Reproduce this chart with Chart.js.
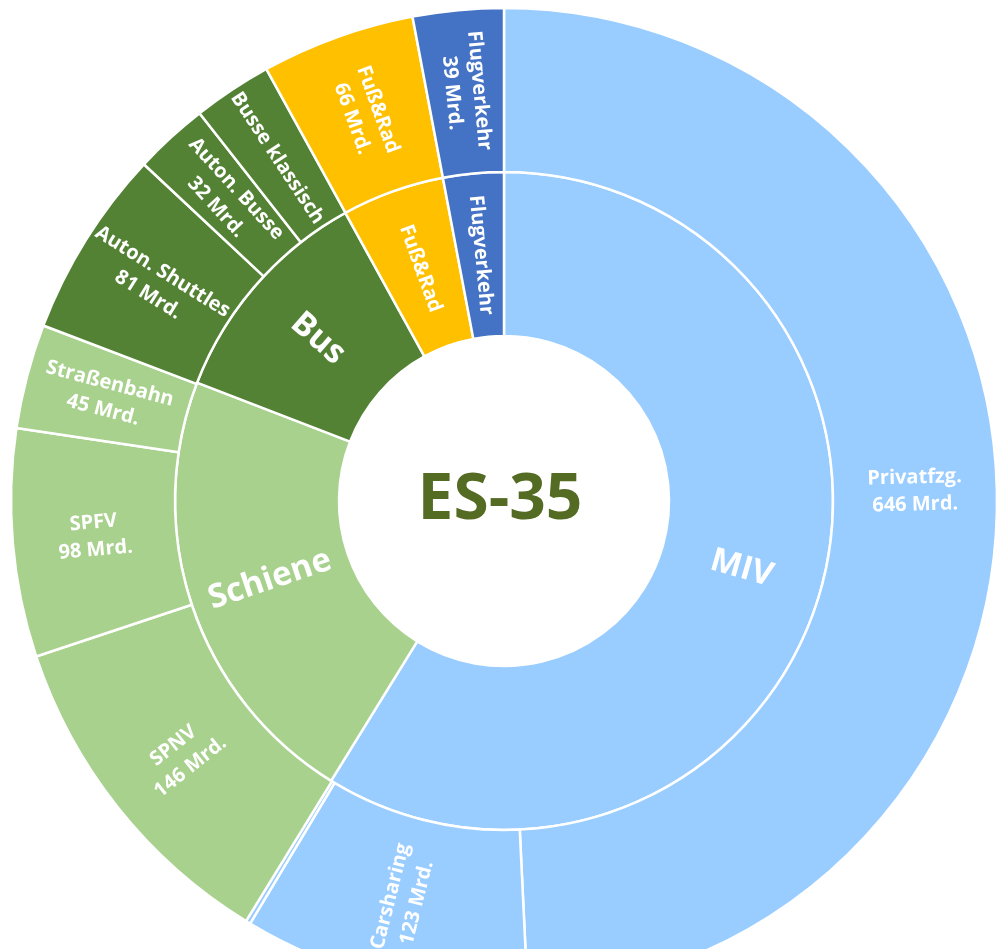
<!DOCTYPE html>
<html>
<head>
<meta charset="utf-8">
<script src="https://cdn.jsdelivr.net/npm/chart.js@4/dist/chart.umd.min.js"></script>
<style>
  html, body { margin: 0; padding: 0; background: #ffffff; overflow: hidden; width: 997px; height: 949px; }
  #wrap { position: absolute; left: 0; top: 0; width: 1008px; height: 1002px; }
  canvas { display: block; }
</style>
</head>
<body>
<div id="wrap"><canvas id="c" width="1008" height="1002"></canvas></div>
<script>
// ---- data (values in Mrd.) ----
const centerTitle = 'ES-35';
const valueUnit = ' Mrd.';

// outer ring, clockwise from 12 o'clock
const outerLabels = ['Privatfzg.', 'Carsharing', '', 'SPNV', 'SPFV', 'Straßenbahn', 'Auton. Shuttles', 'Auton. Busse', 'Busse klassisch', 'Fuß&Rad', 'Flugverkehr'];
const outerValues = [646, 123, 2, 146, 98, 45, 81, 32, 34, 66, 39];
const outerValueShown = [true, true, false, true, true, true, true, true, false, true, true];

// inner ring, clockwise from 12 o'clock
const innerLabels = ['MIV', 'Schiene', 'Bus', 'Fuß&Rad', 'Flugverkehr'];
const innerValues = [771, 289, 146, 66, 39];

// ---- styles ----
const C_MIV = '#99CCFF', C_RAIL = '#A9D18E', C_BUS = '#548235', C_WALK = '#FFC000', C_AIR = '#4472C4';
const outerColors = [C_MIV, C_MIV, C_MIV, C_RAIL, C_RAIL, C_RAIL, C_BUS, C_BUS, C_BUS, C_WALK, C_AIR];
const innerColors = [C_MIV, C_RAIL, C_BUS, C_WALK, C_AIR];
const innerBigFont = [true, true, true, false, false];

const FONT = '"Open Sans", "Liberation Sans", sans-serif';

const labelPlugin = {
  id: 'sunburstLabels',
  afterDatasetsDraw(chart) {
    const ctx = chart.ctx;
    chart.data.datasets.forEach((ds, di) => {
      const meta = chart.getDatasetMeta(di);
      meta.data.forEach((arc, i) => {
        let lines, size;
        if (di === 0) {
          if (!outerLabels[i]) return;
          lines = outerValueShown[i] ? [outerLabels[i], outerValues[i] + valueUnit] : [outerLabels[i]];
          size = 20;
        } else {
          lines = [innerLabels[i]];
          size = innerBigFont[i] ? 33 : 20;
        }
        const p = arc.getProps(['x', 'y', 'startAngle', 'endAngle', 'innerRadius', 'outerRadius'], true);
        const a = (p.startAngle + p.endAngle) / 2;
        const r = (p.innerRadius + p.outerRadius) / 2;
        const px = p.x + r * Math.cos(a);
        const py = p.y + r * Math.sin(a);
        let rot = ((a % (2 * Math.PI)) + 2 * Math.PI) % (2 * Math.PI);
        if (rot > Math.PI / 2 && rot <= 3 * Math.PI / 2) rot -= Math.PI;
        else if (rot > 3 * Math.PI / 2) rot -= 2 * Math.PI;
        const lh = size * 1.36;
        ctx.save();
        ctx.translate(px, py);
        ctx.rotate(rot);
        ctx.fillStyle = '#ffffff';
        ctx.font = 'bold ' + size + 'px ' + FONT;
        ctx.textAlign = 'center';
        ctx.textBaseline = 'middle';
        const off = (lines.length - 1) * lh / 2;
        lines.forEach((t, k) => ctx.fillText(t, 0, k * lh - off));
        ctx.restore();
      });
    });
    // center title
    const m = chart.getDatasetMeta(0).data[0];
    ctx.save();
    ctx.fillStyle = '#546B24';
    ctx.font = 'bold 64px ' + FONT;
    ctx.textAlign = 'center';
    ctx.textBaseline = 'alphabetic';
    ctx.fillText(centerTitle, m.x - 4, m.y + 18);
    ctx.restore();
  }
};

const OUTER_R = 493;
const HOLE_R = 165;

new Chart(document.getElementById('c'), {
  type: 'doughnut',
  data: {
    labels: outerLabels,
    datasets: [
      { label: 'outer', data: outerValues, backgroundColor: outerColors, borderColor: '#ffffff', borderWidth: 2.5 },
      { label: 'inner', data: innerValues, backgroundColor: innerColors, borderColor: '#ffffff', borderWidth: 2.5 }
    ]
  },
  options: {
    responsive: false,
    animation: false,
    devicePixelRatio: 1,
    radius: OUTER_R,
    cutout: (HOLE_R / OUTER_R * 100) + '%',
    layout: { padding: 0 },
    plugins: { legend: { display: false }, tooltip: { enabled: false }, title: { display: false } }
  },
  plugins: [labelPlugin]
});
</script>
</body>
</html>
